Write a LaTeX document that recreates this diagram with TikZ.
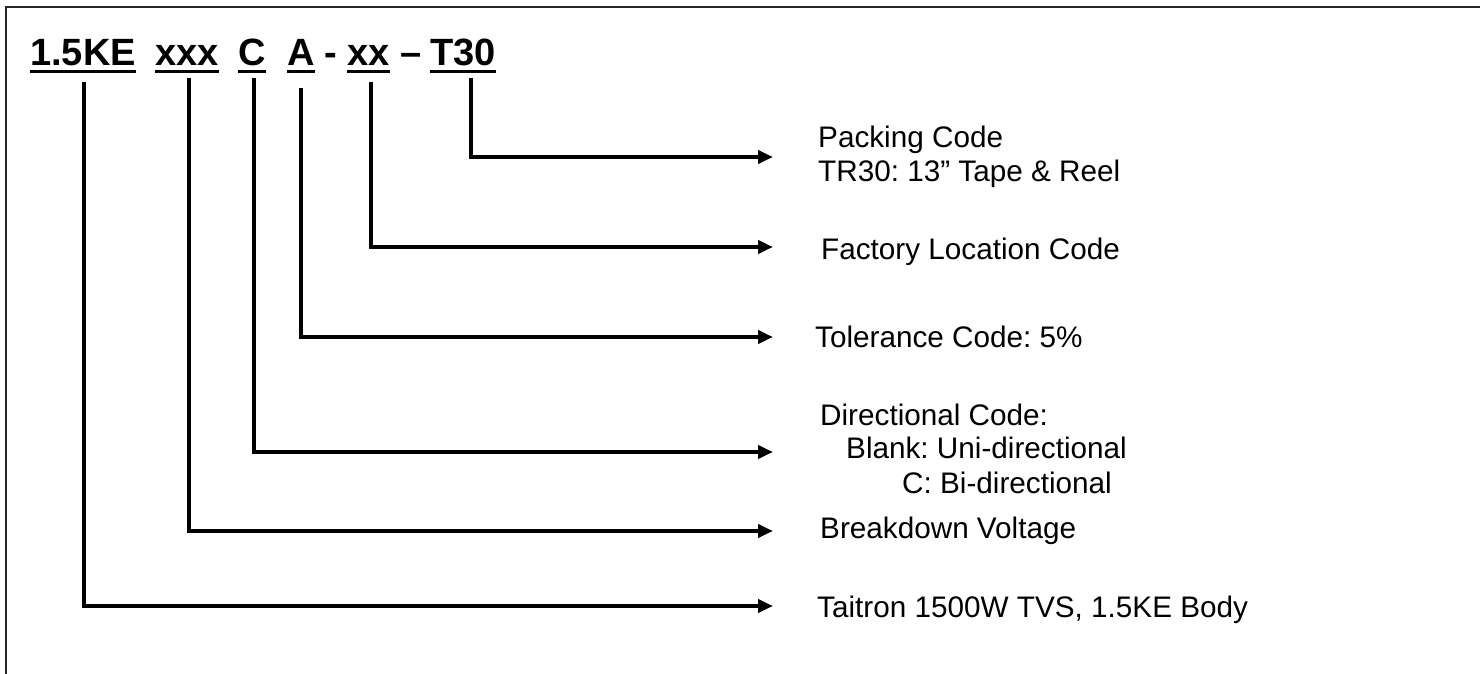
\documentclass[tikz,border=0pt]{standalone}
\usepackage{fontspec}
\setmainfont{Liberation Sans}
\usetikzlibrary{arrows.meta,calc}
\frenchspacing
\begin{document}
\begin{tikzpicture}[x=1pt,y=-1pt,
  title/.style={inner sep=0pt, anchor=base west, font=\fontsize{38}{40}\selectfont\bfseries},
  lbl/.style={inner sep=0pt, anchor=base west, font=\fontsize{29.7}{33}\selectfont},
  ul/.style={line width=3pt},
  conn/.style={line width=4pt, -{Triangle[length=15pt,width=13pt]}},
  frame/.style={line width=2pt, draw=black!85}]
\useasboundingbox (0,0) rectangle (1480,674);
\draw[frame] (6,674) -- (6,7.5) -- (1480,7.5);
% title parts
\node[title] (p1) at (30,66) {1.5KE};
\node[title] (p2) at (155,66) {xxx};
\node[title] (p3) at (238,66) {C};
\node[title] (p4) at (287,66) {A};
\node[title] (d1) at (324,66) {-};
\node[title] (p5) at (347,66) {xx};
\node[title] (d2) at (400,66) {--};
\node[title] (p6) at (430,66) {T30};
\foreach \n in {p1,p2,p3,p4,p5,p6}
  \draw[ul] ($(\n.base west)+(0,6)$) -- ($(\n.base east)+(0,6)$);
% labels
\node[lbl] (l6a) at (818,147) {Packing Code};
\node[lbl] (l6b) at (818,181) {TR30: 13” Tape \& Reel};
\node[lbl] (l5) at (821,259) {Factory Location Code};
\node[lbl] (l4) at (815,347) {Tolerance Code: 5\%};
\node[lbl] (l3a) at (820,425) {Directional Code:};
\node[lbl] (l3b) at (846,458) {Blank: Uni-directional};
\node[lbl] (l3c) at (902,493) {C: Bi-directional};
\node[lbl] (l2) at (820,538) {Breakdown Voltage};
\node[lbl] (l1) at (817,617) {Taitron 1500W TVS, 1.5KE Body};
% connector start points and tips
\coordinate (v1) at (84,82);
\coordinate (v2) at (189,78);
\coordinate (v3) at (254,78);
\coordinate (v4) at (301,88);
\coordinate (v5) at (371,82);
\coordinate (v6) at (471,78);
\coordinate (e1) at (773,606);
\coordinate (e2) at (773,531);
\coordinate (e3) at (773,452);
\coordinate (e4) at (773,337);
\coordinate (e5) at (773,247);
\coordinate (e6) at (773,157);
\foreach \i in {1,...,6}
  \draw[conn] (v\i) |- (e\i);
\end{tikzpicture}
\end{document}
